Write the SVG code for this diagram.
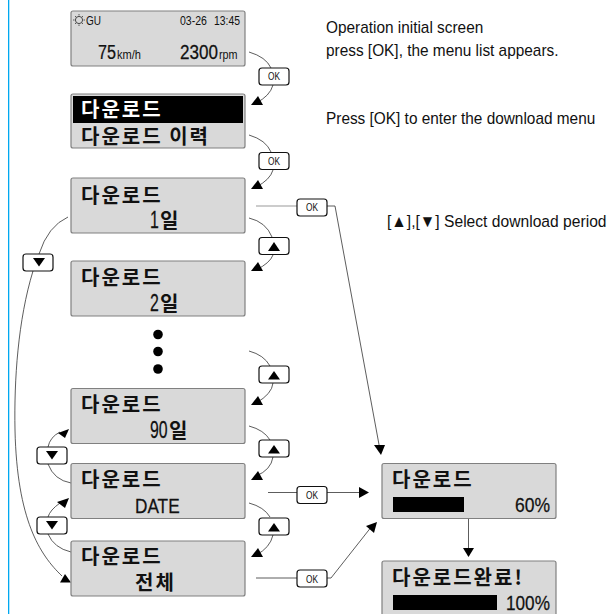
<svg xmlns="http://www.w3.org/2000/svg" width="615" height="614" viewBox="0 0 615 614">
<style>
.lcd{fill:#d9d9d9;stroke:#808080;stroke-width:1.2}
.btn{fill:#fff;stroke:#111;stroke-width:1.2}
.kr{font-family:"Noto Sans CJK KR","Liberation Sans",sans-serif;font-weight:700;font-size:20px;letter-spacing:2px;fill:#111}
.ln{font-family:"Liberation Sans",sans-serif;fill:#111}
.lb{font-family:"Liberation Sans",sans-serif;fill:#111;stroke:#111;stroke-width:.25;font-size:21px}
.ok{font-family:"Liberation Sans",sans-serif;font-size:10px;fill:#111}
.note{font-family:"Liberation Sans","DejaVu Sans",sans-serif;font-size:17px;fill:#111}
.c{fill:none;stroke:#333;stroke-width:.8}
.t{fill:#000}
</style>
<rect x="8" y="0" width="1.300" height="614" fill="#00a8f0"/>
<g id="connectors">
<path class="c" d="M249 52Q266 57 271 68"/><path class="c" d="M273 85Q270 96 256 103"/>
<path class="c" d="M249 135Q266 140 271 152"/><path class="c" d="M273 170Q270 180 256 187"/>
<path class="c" d="M249 218Q266 222 272 237"/><path class="c" d="M273 255Q270 263 256 270"/>
<path class="c" d="M249 351Q264 355 270 366"/><path class="c" d="M273 383Q272 394 256 403"/>
<path class="c" d="M249 426Q264 430 270 440"/><path class="c" d="M273 457Q271 470 256 476"/>
<path class="c" d="M249 503Q264 507 270 517"/><path class="c" d="M273 535Q270 548 256 555"/>
<path d="M256 206H297" fill="none" stroke="#999" stroke-width="1.200"/>
<path class="c" d="M327 206H335L380 450"/>
<polygon class="t" points="374,445 385,445 381,455"/>
<path class="c" d="M268 492.500H297"/>
<path class="c" d="M327 492.500H362"/>
<polygon class="t" points="359,487 369,492.500 359,498"/>
<path class="c" d="M256 578H297"/>
<path class="c" d="M327 578H331L372 526"/>
<polygon class="t" points="366,526 377,522 374,533"/>
<path class="c" d="M468.500 519V550"/>
<polygon class="t" points="463,548 474,548 468.500,557"/>
<path class="c" d="M68 217Q48 226 39 254"/>
<path class="c" d="M33 271C18 320 14 380 15 430C17 520 40 555 62 576"/>
<polygon class="t" points="60,582.500 71,582.500 65,574"/>
<path class="c" d="M71 483Q54 480 48 464"/><path class="c" d="M48 447Q50 437 60 432"/>
<path class="c" d="M71 552Q54 548 48 534"/><path class="c" d="M48 517Q50 510 60 503"/>
<polygon class="t" points="58,433 69,429 65,438"/>
<polygon class="t" points="57,502 69,498 65,508"/>
<polygon class="t" points="251,105 263,105 258,96"/>
<polygon class="t" points="251,189 263,189 258,180"/>
<polygon class="t" points="251,271 263,271 258,262"/>
<polygon class="t" points="251,405 263,405 258,396"/>
<polygon class="t" points="251,480 263,480 258,471"/>
<polygon class="t" points="251,557 263,557 258,548"/>
</g>
<g id="screen-initial">
<rect class="lcd" x="71" y="11" width="174" height="55" rx="2"/>
<circle cx="79" cy="20" r="3.600" fill="none" stroke="#222" stroke-width=".8"/>
<path d="M79 14v1.500M79 24.500v1.500M73 20h1.500M83.500 20h1.500M75 16l1 1M83 16l-1 1M75 24l1-1M83 24l-1-1" stroke="#222" stroke-width=".7"/>
<text class="ln" transform="translate(86 25) scale(.74 1)" font-size="13.500">GU</text>
<text class="ln" transform="translate(180 24.500) scale(.81 1)" font-size="13">03-26</text>
<text class="ln" transform="translate(214 24.500) scale(.8 1)" font-size="13">13:45</text>
<text class="lb" transform="translate(98 58.500) scale(.83 1)" style="font-size:19.500px">75</text>
<text class="ln" transform="translate(117 58.500) scale(.92 1)" font-size="12">km/h</text>
<text class="lb" transform="translate(180 58.500) scale(.875 1)" style="font-size:19.500px">2300</text>
<text class="ln" transform="translate(219 58.500) scale(.9 1)" font-size="12">rpm</text>
</g>
<g id="screen-menu">
<rect class="lcd" x="71" y="94" width="174" height="54" rx="2"/>
<rect x="73" y="96" width="170" height="27" fill="#000"/>
<text class="kr" x="81" y="117" style="fill:#fff">다운로드</text>
<text class="kr" x="81" y="144">다운로드 이력</text>
</g>
<g id="screen-1day">
<rect class="lcd" x="71" y="178" width="174" height="55" rx="2"/>
<text class="kr" x="81" y="203">다운로드</text>
<text class="lb" transform="translate(150 228) scale(.69 1)" style="font-size:23px">1</text><text class="kr" x="160" y="228">일</text>
</g>
<g id="screen-2day">
<rect class="lcd" x="71" y="261" width="174" height="55" rx="2"/>
<text class="kr" x="81" y="285">다운로드</text>
<text class="lb" transform="translate(150 311) scale(.69 1)" style="font-size:23px">2</text><text class="kr" x="160" y="311">일</text>
</g>
<g id="dots"><circle cx="158" cy="334.500" r="4.800"/><circle cx="158" cy="351.500" r="4.800"/><circle cx="158" cy="369" r="4.800"/></g>
<g id="screen-90day">
<rect class="lcd" x="71" y="388.500" width="174" height="55" rx="2"/>
<text class="kr" x="81" y="412">다운로드</text>
<text class="lb" transform="translate(150 438) scale(.69 1)" style="font-size:23px">90</text><text class="kr" x="169" y="438">일</text>
</g>
<g id="screen-date">
<rect class="lcd" x="71" y="463.500" width="174" height="55" rx="2"/>
<text class="kr" x="81" y="487">다운로드</text>
<text class="lb" transform="translate(135 513) scale(.82 1)">DATE</text>
</g>
<g id="screen-all">
<rect class="lcd" x="71" y="541" width="174" height="55" rx="2"/>
<text class="kr" x="81" y="564">다운로드</text><text class="kr" x="135" y="590">전체</text>
</g>
<g id="screen-progress">
<rect class="lcd" x="382" y="463.500" width="174" height="55" rx="2"/>
<text class="kr" x="392" y="487">다운로드</text>
<rect x="393" y="497" width="71" height="15" fill="#000"/>
<text class="lb" transform="translate(515 512) scale(.875 1)" style="font-size:20px">60%</text>
</g>
<g id="screen-done">
<rect class="lcd" x="382" y="561" width="174" height="56" rx="2"/>
<text class="kr" x="392" y="585">다운로드완료!</text>
<rect x="393" y="595" width="104" height="15" fill="#000"/>
<text class="lb" transform="translate(506 610) scale(.86 1)" style="font-size:20px">100%</text>
</g>
<g id="btn-ok1"><rect class="btn" x="259" y="68" width="30" height="17" rx="3"/><text class="ok" transform="translate(268 80) scale(.83 1)">OK</text></g>
<g id="btn-ok2"><rect class="btn" x="259" y="152.500" width="30" height="17" rx="3"/><text class="ok" transform="translate(268 165) scale(.83 1)">OK</text></g>
<g id="btn-ok3"><rect class="btn" x="297" y="199" width="30" height="17" rx="3"/><text class="ok" transform="translate(306 211) scale(.83 1)">OK</text></g>
<g id="btn-ok4"><rect class="btn" x="297" y="486.500" width="30" height="17" rx="3"/><text class="ok" transform="translate(306 499) scale(.83 1)">OK</text></g>
<g id="btn-ok5"><rect class="btn" x="297" y="570" width="30" height="17" rx="3"/><text class="ok" transform="translate(306 582.500) scale(.83 1)">OK</text></g>
<g id="btn-up1"><rect class="btn" x="259" y="237.500" width="30" height="17" rx="3"/><polygon class="t" points="268,251 280,251 274,242"/></g>
<g id="btn-up2"><rect class="btn" x="259" y="366" width="30" height="17" rx="3"/><polygon class="t" points="268,379.500 280,379.500 274,371"/></g>
<g id="btn-up3"><rect class="btn" x="259" y="440" width="30" height="17" rx="3"/><polygon class="t" points="268,453.500 280,453.500 274,445"/></g>
<g id="btn-up4"><rect class="btn" x="259" y="518" width="30" height="17" rx="3"/><polygon class="t" points="268,531.500 280,531.500 274,523"/></g>
<g id="btn-down1"><rect class="btn" x="23" y="254" width="30" height="17" rx="3"/><polygon class="t" points="33,258 45,258 39,266.500"/></g>
<g id="btn-down2"><rect class="btn" x="37" y="447" width="30" height="17" rx="3"/><polygon class="t" points="46,451 58,451 52,459.500"/></g>
<g id="btn-down3"><rect class="btn" x="37" y="517" width="30" height="17" rx="3"/><polygon class="t" points="46,521 58,521 52,529.500"/></g>
<g id="notes">
<text class="note" transform="translate(326 33) scale(.905 1)">Operation initial screen</text>
<text class="note" transform="translate(326 56) scale(.905 1)">press [OK], the menu list appears.</text>
<text class="note" transform="translate(326 124) scale(.905 1)">Press [OK] to enter the download menu</text>
<text class="note" transform="translate(387 227) scale(.92 1)">[▲],[▼] Select download period</text>
</g>
</svg>
